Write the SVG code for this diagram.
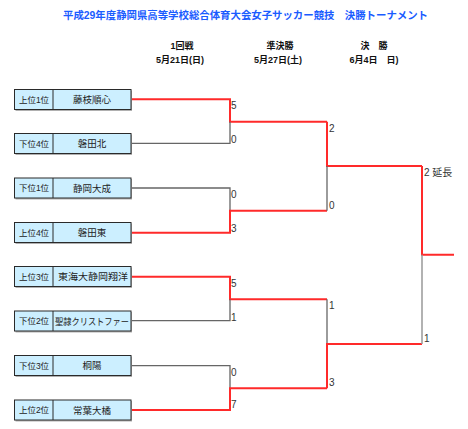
<svg xmlns="http://www.w3.org/2000/svg" width="468" height="429" viewBox="0 0 468 429">
<style>
.bg{fill:#ffffff}
.box{fill:#ccefff;stroke:#2a2a2a;stroke-width:1}
.shadow{fill:#b0b0b0}
.t{font-family:"Liberation Sans","Noto Sans CJK JP",sans-serif;fill:#222}
.rank{font-size:8.5px;text-anchor:middle}
.name{font-size:9.5px;text-anchor:middle}
.hdr{font-size:9px;font-weight:bold;text-anchor:middle;fill:#111}
.title{font-size:10.5px;font-weight:bold;fill:#1a5cff}
.sc{font-size:10px;fill:#333}
.win{fill:none;stroke:#ff2a2a;stroke-width:2}
.lose{fill:none;stroke:#666;stroke-width:1.3}
.lose2{fill:none;stroke:#999;stroke-width:1.5}
</style>
<rect class="bg" x="0" y="0" width="468" height="429"/>
<text class="t title" x="63" y="19" textLength="365" lengthAdjust="spacingAndGlyphs">平成29年度静岡県高等学校総合体育大会女子サッカー競技　決勝トーナメント</text>
<g id="headers">
<text class="t hdr" x="182" y="49">1回戦</text>
<text class="t hdr" x="180" y="63">5月21日(日)</text>
<text class="t hdr" x="280" y="49">準決勝</text>
<text class="t hdr" x="278" y="63">5月27日(土)</text>
<text class="t hdr" x="374" y="49">決　勝</text>
<text class="t hdr" x="374" y="63">6月4日　日)</text>
</g>
<g id="connectors">
<path class="win" d="M131,99.3 H230 V121.7 H327"/>
<path class="lose" d="M131,143.3 H230 V121.7"/>
<path class="lose" d="M131,188 H230 V210.7"/>
<path class="win" d="M131,232.7 H230 V210.7 H327"/>
<path class="win" d="M131,276.7 H230 V299.3 H327"/>
<path class="lose" d="M131,320.7 H230 V299.3"/>
<path class="lose" d="M131,365.7 H230 V388.3"/>
<path class="win" d="M131,410 H230 V388.3 H327"/>
<path class="win" d="M327,121.7 V166 H422"/>
<path class="lose" d="M327,166 V210.7"/>
<path class="lose" d="M327,299.3 V344"/>
<path class="win" d="M327,388.3 V344 H422"/>
<path class="win" d="M422,166 V254.7 H454"/>
<path class="lose2" d="M422,254.7 V344"/>
</g>
<g id="scores">
<text class="t sc" x="231" y="109">5</text>
<text class="t sc" x="231" y="143">0</text>
<text class="t sc" x="231" y="198">0</text>
<text class="t sc" x="231" y="232">3</text>
<text class="t sc" x="231" y="287">5</text>
<text class="t sc" x="231" y="321">1</text>
<text class="t sc" x="231" y="376">0</text>
<text class="t sc" x="231" y="408">7</text>
<text class="t sc" x="329" y="132">2</text>
<text class="t sc" x="329" y="209">0</text>
<text class="t sc" x="329" y="309">1</text>
<text class="t sc" x="329" y="386">3</text>
<text class="t sc" x="424" y="176">2 延長</text>
<text class="t sc" x="424" y="342">1</text>
</g>
<g id="team1">
<rect class="shadow" x="15.5" y="90.5" width="116.5" height="20.5"/>
<rect class="box" x="14.5" y="89.5" width="116.5" height="20"/>
<line x1="53" y1="89.5" x2="53" y2="109.5" stroke="#2a2a2a"/>
<text class="t rank" x="34" y="102.5">上位1位</text>
<text class="t name" x="92" y="103">藤枝順心</text>
</g>
<g id="team2">
<rect class="shadow" x="15.5" y="134.5" width="116.5" height="20.5"/>
<rect class="box" x="14.5" y="133.5" width="116.5" height="20"/>
<line x1="53" y1="133.5" x2="53" y2="153.5" stroke="#2a2a2a"/>
<text class="t rank" x="34" y="146.5">下位4位</text>
<text class="t name" x="92" y="147">磐田北</text>
</g>
<g id="team3">
<rect class="shadow" x="15.5" y="179" width="116.5" height="20.5"/>
<rect class="box" x="14.5" y="178" width="116.5" height="20"/>
<line x1="53" y1="178" x2="53" y2="198" stroke="#2a2a2a"/>
<text class="t rank" x="34" y="191">下位1位</text>
<text class="t name" x="92" y="191.5">静岡大成</text>
</g>
<g id="team4">
<rect class="shadow" x="15.5" y="223.5" width="116.5" height="20.5"/>
<rect class="box" x="14.5" y="222.5" width="116.5" height="20"/>
<line x1="53" y1="222.5" x2="53" y2="242.5" stroke="#2a2a2a"/>
<text class="t rank" x="34" y="235.5">上位4位</text>
<text class="t name" x="92" y="236">磐田東</text>
</g>
<g id="team5">
<rect class="shadow" x="15.5" y="267.5" width="116.5" height="20.5"/>
<rect class="box" x="14.5" y="266.5" width="116.5" height="20"/>
<line x1="53" y1="266.5" x2="53" y2="286.5" stroke="#2a2a2a"/>
<text class="t rank" x="34" y="279.5">上位3位</text>
<text class="t name" x="93" y="280" textLength="70" lengthAdjust="spacingAndGlyphs">東海大静岡翔洋</text>
</g>
<g id="team6">
<rect class="shadow" x="15.5" y="312" width="116.5" height="20.5"/>
<rect class="box" x="14.5" y="311" width="116.5" height="20"/>
<line x1="53" y1="311" x2="53" y2="331" stroke="#2a2a2a"/>
<text class="t rank" x="34" y="324">下位2位</text>
<text class="t name" x="92" y="324.5" textLength="74" lengthAdjust="spacingAndGlyphs">聖隷クリストファー</text>
</g>
<g id="team7">
<rect class="shadow" x="15.5" y="356.5" width="116.5" height="20.5"/>
<rect class="box" x="14.5" y="355.5" width="116.5" height="20"/>
<line x1="53" y1="355.5" x2="53" y2="375.5" stroke="#2a2a2a"/>
<text class="t rank" x="34" y="368.5">下位3位</text>
<text class="t name" x="92" y="369">桐陽</text>
</g>
<g id="team8">
<rect class="shadow" x="15.5" y="401" width="116.5" height="20.5"/>
<rect class="box" x="14.5" y="400" width="116.5" height="20"/>
<line x1="53" y1="400" x2="53" y2="420" stroke="#2a2a2a"/>
<text class="t rank" x="34" y="413">上位2位</text>
<text class="t name" x="92" y="413.5">常葉大橘</text>
</g>
</svg>
